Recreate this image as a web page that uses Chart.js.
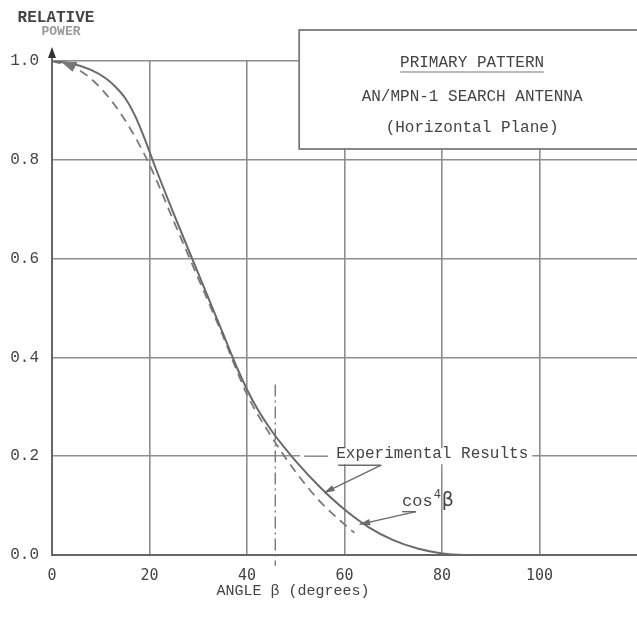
<!DOCTYPE html>
<html lang="en">
  <head>
    <meta charset="UTF-8" />
    <title>Primary Pattern - AN/MPN-1 Search Antenna</title>
    <script src="https://cdn.jsdelivr.net/npm/chart.js"></script>
    <style>
      html, body { margin: 0; padding: 0; background: #fff; }
      #wrap { width: 637px; height: 619px; }
    </style>
  </head>
  <body>
    <div id="wrap"><canvas id="patternChart" width="637" height="619"></canvas></div>

    <script>
      // values
      const angles = [0, 4, 8, 11, 13, 15, 17, 19, 21, 25, 30, 35, 38, 40, 42, 45, 50, 55, 60, 65, 70, 75, 80, 85];
      const experimental = [1.0, 0.995, 0.982, 0.965, 0.948, 0.925, 0.89, 0.843, 0.79, 0.69, 0.57, 0.45, 0.378, 0.335, 0.298, 0.252, 0.19, 0.137, 0.092, 0.056, 0.03, 0.013, 0.003, 0.0];

      const cosAngles = [0, 5, 10, 15, 20, 25, 30, 35, 40, 45, 50, 55, 60, 62];
      const cos4Values = [1.0, 0.985, 0.945, 0.88, 0.79, 0.675, 0.56, 0.445, 0.325, 0.24, 0.168, 0.108, 0.062, 0.045];

      // dash-dot marker line
      const markerX = [45.8, 45.8];
      const markerY = [0.345, -0.022];

      const xTicks = [0, 20, 40, 60, 80, 100];
      const yTicks = [0, 0.2, 0.4, 0.6, 0.8, 1.0];

      const ink = "#6a6a6a";
      const textInk = "#444";
      const gridInk = "#8e8e8e";
      const mono = "'Liberation Mono', 'DejaVu Sans Mono', monospace";

      function pts(xs, ys) {
        return xs.map((x, i) => ({ x: x, y: ys[i] }));
      }

      function arrow(ctx, x1, y1, x2, y2) {
        ctx.beginPath();
        ctx.moveTo(x1, y1);
        ctx.lineTo(x2, y2);
        ctx.stroke();
        const a = Math.atan2(y2 - y1, x2 - x1);
        ctx.beginPath();
        ctx.moveTo(x2, y2);
        ctx.lineTo(x2 - 11 * Math.cos(a - 0.3), y2 - 11 * Math.sin(a - 0.3));
        ctx.lineTo(x2 - 11 * Math.cos(a + 0.3), y2 - 11 * Math.sin(a + 0.3));
        ctx.closePath();
        ctx.fill();
      }

      const paperNotes = {
        id: "paperNotes",
        afterDraw(chart) {
          const ctx = chart.ctx;
          const xs = chart.scales.x;
          const ys = chart.scales.y;
          const px = (v) => xs.getPixelForValue(v);
          const py = (v) => ys.getPixelForValue(v);
          ctx.save();
          ctx.strokeStyle = ink;
          ctx.fillStyle = ink;

          // y axis arrow
          const ax = px(0);
          ctx.lineWidth = 2;
          ctx.beginPath();
          ctx.moveTo(ax, py(1.0));
          ctx.lineTo(ax, py(1.0) - 12);
          ctx.stroke();
          ctx.fillStyle = "#333";
          ctx.beginPath();
          ctx.moveTo(ax, py(1.0) - 14);
          ctx.lineTo(ax - 4, py(1.0) - 3);
          ctx.lineTo(ax + 4, py(1.0) - 3);
          ctx.closePath();
          ctx.fill();

          // little arrowhead at the start of the curves
          ctx.fillStyle = "#777";
          ctx.beginPath();
          ctx.moveTo(px(1.8), py(0.999));
          ctx.lineTo(px(5.2), py(0.998));
          ctx.lineTo(px(4.2), py(0.978));
          ctx.closePath();
          ctx.fill();

          // axis titles
          ctx.fillStyle = textInk;
          ctx.textAlign = "center";
          ctx.textBaseline = "middle";
          ctx.font = "bold 16px " + mono;
          ctx.fillText("RELATIVE", 56, 18);
          ctx.fillStyle = "#999";
          ctx.font = "bold 13px " + mono;
          ctx.fillText("POWER", 61, 32);
          ctx.fillStyle = textInk;
          ctx.font = "15px " + mono;
          ctx.fillText("ANGLE \u03b2 (degrees)", 293, 591);

          // title box
          const bx = px(50.7);
          const by = 30;
          const bw = chart.width - bx + 10;
          const bh = 119;
          ctx.fillStyle = "#fff";
          ctx.fillRect(bx, by, bw, bh);
          ctx.strokeStyle = "#7a7a7a";
          ctx.lineWidth = 1.8;
          ctx.strokeRect(bx, by, bw, bh);
          const cx = (bx + chart.width + 8) / 2;
          ctx.fillStyle = textInk;
          ctx.font = "16px " + mono;
          ctx.fillText("PRIMARY PATTERN", cx, by + 33);
          const tw = ctx.measureText("PRIMARY PATTERN").width;
          ctx.lineWidth = 1;
          ctx.strokeStyle = "#777";
          ctx.beginPath();
          ctx.moveTo(cx - tw / 2, by + 42);
          ctx.lineTo(cx + tw / 2, by + 42);
          ctx.stroke();
          ctx.fillText("AN/MPN-1 SEARCH ANTENNA", cx, by + 67);
          ctx.fillText("(Horizontal Plane)", cx, by + 98);

          // Experimental Results note
          ctx.font = "16px " + mono;
          ctx.textAlign = "left";
          const ex = px(58.3);
          const ey = py(0.2);
          const ew = ctx.measureText("Experimental Results").width;
          ctx.fillStyle = "#fff";
          ctx.fillRect(ex - 36, ey - 8, ew + 40, 16);
          ctx.strokeStyle = gridInk;
          ctx.lineWidth = 1.6;
          ctx.beginPath();
          ctx.moveTo(ex - 32, ey);
          ctx.lineTo(ex - 8, ey);
          ctx.stroke();
          ctx.fillStyle = textInk;
          ctx.fillText("Experimental Results", ex, ey - 2);
          ctx.strokeStyle = ink;
          ctx.fillStyle = ink;
          ctx.lineWidth = 1.4;
          ctx.beginPath();
          ctx.moveTo(ex + 2, ey + 9);
          ctx.lineTo(ex + 45, ey + 9);
          ctx.stroke();
          arrow(ctx, ex + 45, ey + 9, px(55.8), py(0.126));

          // cos^4 beta note
          const cx2 = px(71.8);
          const cy2 = py(0.108);
          ctx.fillStyle = textInk;
          ctx.font = "17px " + mono;
          ctx.fillText("cos", cx2, cy2);
          const cw = ctx.measureText("cos").width;
          ctx.font = "12px " + mono;
          ctx.fillText("4", cx2 + cw + 1, cy2 - 7);
          ctx.font = "19px 'DejaVu Sans', sans-serif";
          ctx.fillText("\u03b2", cx2 + cw + 9, cy2 - 1);
          ctx.strokeStyle = ink;
          ctx.fillStyle = ink;
          ctx.lineWidth = 1.4;
          ctx.beginPath();
          ctx.moveTo(cx2, cy2 + 10);
          ctx.lineTo(cx2 + 14, cy2 + 10);
          ctx.stroke();
          arrow(ctx, cx2 + 14, cy2 + 10, px(63.1), py(0.062));

          ctx.restore();
        },
      };

      new Chart(document.getElementById("patternChart"), {
        type: "line",
        data: {
          datasets: [
            {
              label: "Experimental Results",
              data: pts(angles, experimental),
              borderColor: "#6a6a6a",
              borderWidth: 2,
              pointRadius: 0,
              cubicInterpolationMode: "monotone",
            },
            {
              label: "cos^4 beta",
              data: pts(cosAngles, cos4Values),
              borderColor: "#7a7a7a",
              borderWidth: 1.8,
              borderDash: [9, 6],
              pointRadius: 0,
              cubicInterpolationMode: "monotone",
            },
            {
              label: "marker",
              data: pts(markerX, markerY),
              borderColor: "#777",
              borderWidth: 1.4,
              borderDash: [12, 4, 2, 4],
              pointRadius: 0,
              clip: false,
            },
          ],
        },
        options: {
          responsive: false,
          animation: false,
          layout: { padding: { top: 61, right: 0, left: 0, bottom: 0 } },
          plugins: {
            legend: { display: false },
            tooltip: { enabled: false },
          },
          scales: {
            x: {
              type: "linear",
              min: 0,
              max: 120,
              afterBuildTicks: (scale) => {
                scale.ticks = xTicks.map((v) => ({ value: v }));
              },
              afterFit: (scale) => {
                scale.height = 64;
              },
              grid: { color: gridInk, lineWidth: 1.6, drawTicks: false },
              border: { color: "#666", width: 2 },
              ticks: {
                padding: 12,
                color: textInk,
                font: { family: "'DejaVu Sans Mono', monospace", size: 15 },
                callback: (v) => String(v),
              },
            },
            y: {
              min: 0,
              max: 1.0,
              afterBuildTicks: (scale) => {
                scale.ticks = yTicks.map((v) => ({ value: v }));
              },
              afterFit: (scale) => {
                scale.width = 52;
              },
              grid: { color: gridInk, lineWidth: 1.6, drawTicks: false },
              border: { color: "#666", width: 2 },
              ticks: {
                padding: 13,
                color: textInk,
                font: { family: mono, size: 16 },
                callback: (v) => v.toFixed(1),
              },
            },
          },
        },
        plugins: [paperNotes],
      });
    </script>
  </body>
</html>
